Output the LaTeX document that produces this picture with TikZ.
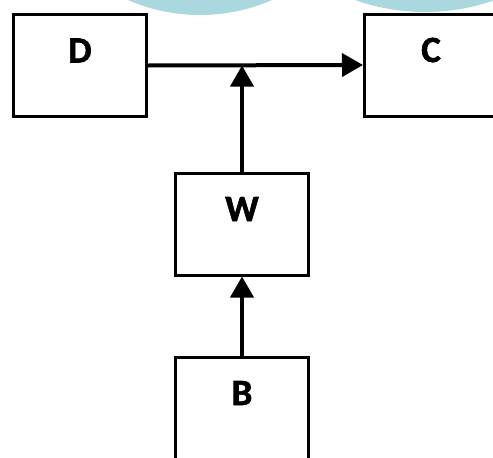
\documentclass[tikz,border=0pt]{standalone}
\usepackage{fontspec}
\setmainfont{Carlito}
\newfontfamily\lblfont[FakeBold=1.6]{Carlito Bold}
\usetikzlibrary{arrows.meta}
\definecolor{wmteal}{RGB}{170,216,222}

\begin{document}
\begin{tikzpicture}[x=1pt,y=-1pt,
    block/.style={draw,line width=3pt,minimum width=133pt,minimum height=102pt,
        inner sep=0pt,font=\fontsize{37}{40}\selectfont\lblfont,
        text height=25pt,text depth=31pt},
    flow/.style={line width=4pt,-{Triangle[length=21pt,width=23pt]}}]%
        \useasboundingbox (0,0) rectangle (493,458);
        \fill[wmteal] (200,-165) circle (180);
        \fill[wmteal] (425,-198) circle (210);
        \node[block] (d) at (80,65.5) {D};
        \node[block] (c) at (431,65) {C};
        \node[block] (w) at (242,224) {W};
        \node[block] (b) at (242,408) {B};
        \coordinate (j) at (w.north |- d.east);
        \draw[flow] (d.east) -- (c.west);
        \draw[flow] (w.north) -- (j);
        \draw[flow] (b.north) -- (w.south);
    \end{tikzpicture}
\end{document}
